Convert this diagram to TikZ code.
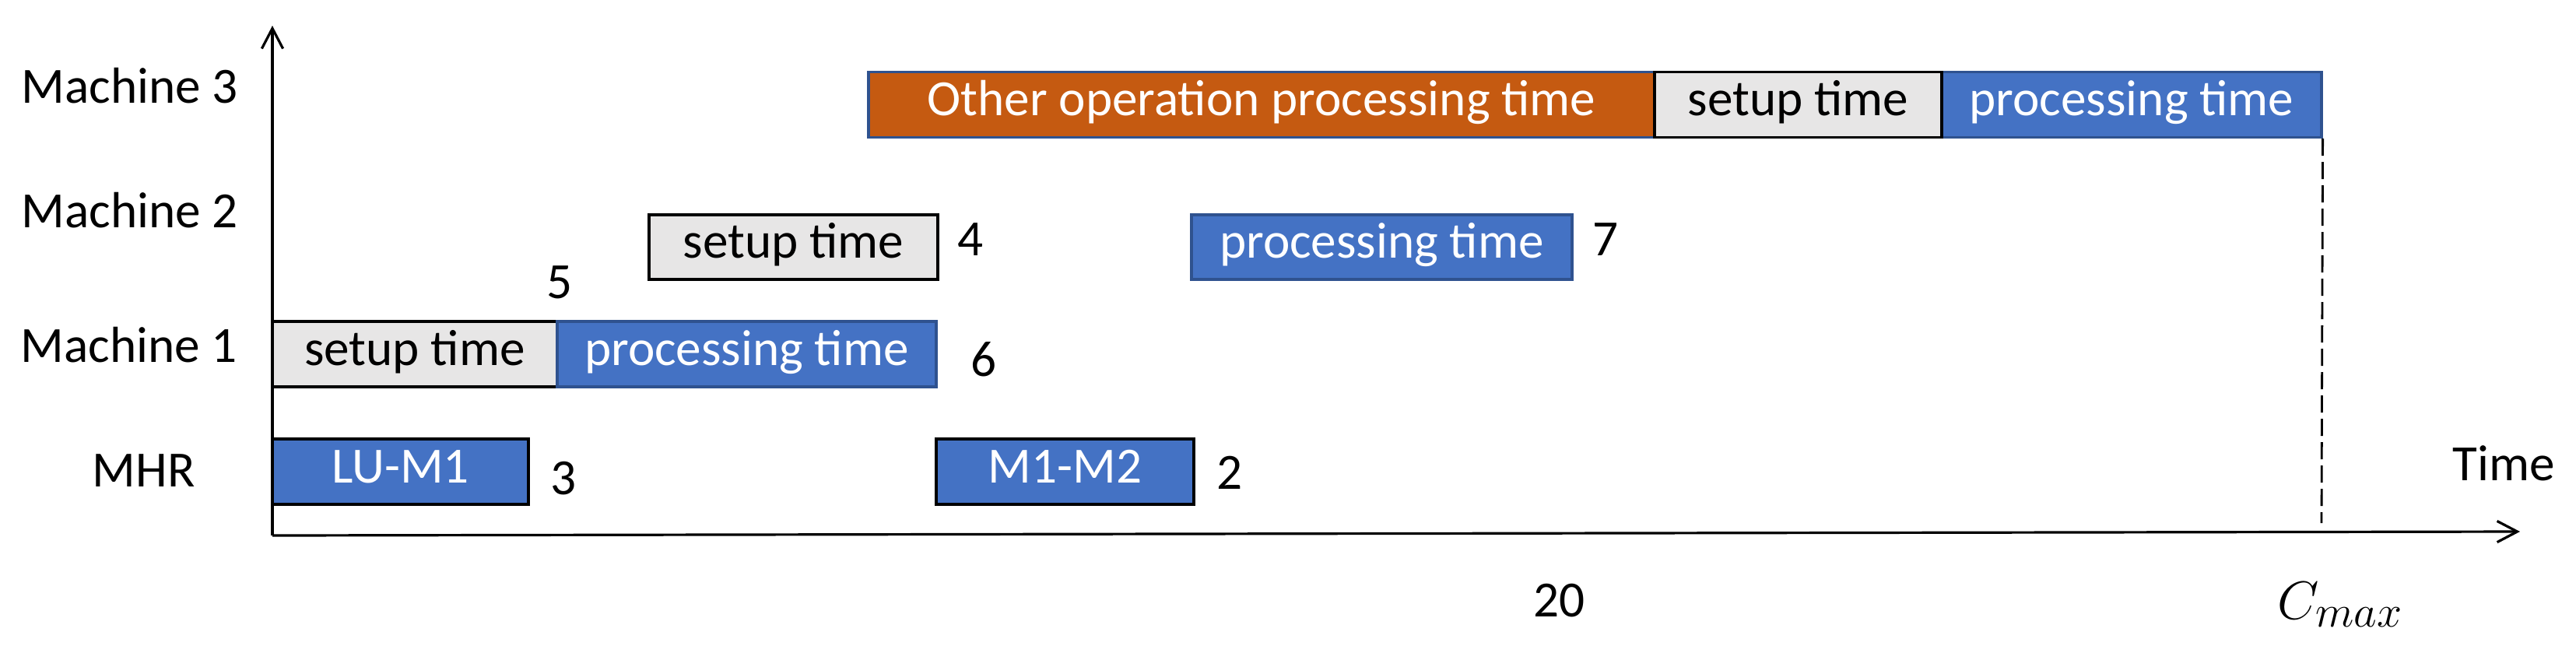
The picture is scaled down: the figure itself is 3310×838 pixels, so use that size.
\documentclass[tikz,border=0pt]{standalone}
\usepackage{fontspec}
\setmainfont{Carlito}
\usetikzlibrary{arrows.meta}
\definecolor{pblue}{HTML}{4472C4}
\definecolor{bblue}{HTML}{2F528F}
\definecolor{porange}{HTML}{C55A11}
\definecolor{sgrey}{HTML}{E7E6E6}
\begin{document}
\begin{tikzpicture}[x=0.25pt,y=-0.25pt,
  font=\fontsize{16.3}{19}\selectfont,
  box/.style={draw, line width=0.8pt, inner sep=0pt, text height=0.7em, text depth=0pt, minimum height=21pt},
  setupbox/.style={box, fill=sgrey, draw=black, text=black},
  procbox/.style={box, fill=pblue, draw=bblue, text=white},
  otherbox/.style={box, fill=porange, draw=bblue, text=white},
  mhrbox/.style={box, fill=pblue, draw=black, text=white},
  lbl/.style={anchor=base west, inner sep=0pt},
  axis/.style={line width=0.8pt, -{Straight Barb[length=6.5pt,width=6.8pt,line width=0.8pt]}},
  cmaxline/.style={line width=0.7pt, dash pattern=on 5.5pt off 2pt}]
\useasboundingbox (0,0) rectangle (3310,838);

% axes
\coordinate (o) at (350,688);
\coordinate (ytop) at (350,33);
\coordinate (xend) at (3238,683);
\draw[axis] (o) -- (ytop);
\draw[axis] (o) -- (xend);

% row labels
\node[lbl] (m3) at (27,132) {Machine 3};
\node[lbl] (m2) at (27,292) {Machine 2};
\node[lbl] (m1) at (26,465) {Machine 1};
\node[lbl] (mhr) at (118,625) {MHR};

% Machine 3
\node[otherbox, minimum width=252.5pt] (o3) at (1621,134.5) {Other operation processing time};
\node[procbox, minimum width=122pt] (p3) at (2739,134.5) {processing time};
\node[setupbox, minimum width=92.25pt] (s3) at (2310.5,134.5) {setup time};

% Machine 2
\node[setupbox, minimum width=92.75pt, minimum height=20.75pt] (s2) at (1019.5,317.5) {setup time};
\node[procbox, minimum width=122.25pt, minimum height=20.75pt] (p2) at (1775.5,317.5) {processing time};

% Machine 1
\node[setupbox, minimum width=91.5pt] (s1) at (533,455) {setup time};
\node[procbox, minimum width=121.75pt] (p1) at (959.5,455) {processing time};

% MHR
\node[mhrbox, minimum width=82.25pt] (lu) at (514.5,606) {LU-M1};
\node[mhrbox, minimum width=82.75pt] (mm) at (1368.5,606) {M1-M2};

% numbers
\node[lbl] (n5) at (702,383) {5};
\node[lbl] (n4) at (1230,328) {4};
\node[lbl] (n6) at (1247,483) {6};
\node[lbl] (n7) at (2046,328) {7};
\node[lbl] (n3) at (707,635) {3};
\node[lbl] (n2) at (1563,628) {2};
\node[lbl] (n20) at (1970,792) {20};
\node[lbl] (time) at (3151,617) {Time};
\node[lbl] (cmax) at (2926,795) {\fontsize{17}{20}\selectfont$C_{\mbox{\fontsize{13.5}{15}\selectfont$max$}}$};

% Cmax dashed line
\coordinate (cm) at (2983,672);
\draw[cmaxline] (p3.south east) -- (cm);
\end{tikzpicture}
\end{document}
